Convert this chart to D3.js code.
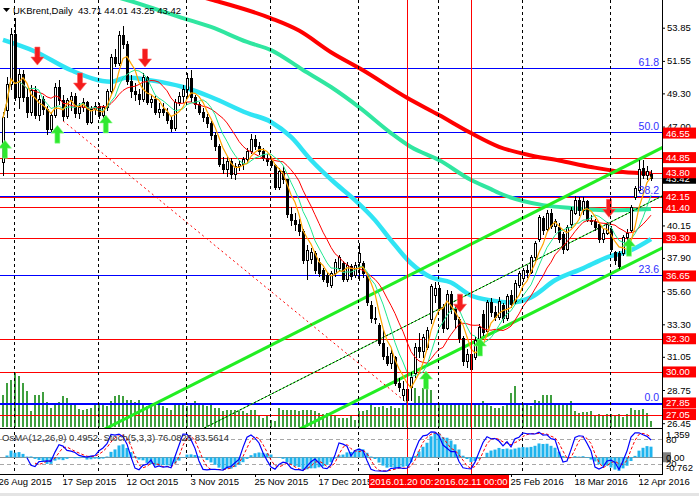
<!DOCTYPE html>
<html>
<head>
<meta charset="utf-8">
<script src="https://cdn.jsdelivr.net/npm/d3@7"></script>
<style>
body { margin: 0; background: #fff; }
svg { display: block; font-family: "Liberation Sans", Arial, sans-serif; font-size: 9.5px; }
text { white-space: pre; }
</style>
</head>
<body>
<svg id="chart" width="699" height="496"></svg>
<script>
var chartWidth = 699;
var chartHeight = 496;
var plotRight = 662, mainBottom = 428, subTop = 430, subBottom = 474;

/********
 * Data *
 ********/

// daily candles [open, high, low, close], bar 0 = 27 Aug 2015, last = 15 Apr 2016
var candles = [
  [44.5,48.0,43.6,47.6],[48.1,50.4,47.6,49.9],[49.9,53.8,49.5,53.4],[53.4,54.5,48.8,49.0],[49.0,51.0,48.2,50.6],
  [50.6,50.9,48.7,49.0],[49.0,49.6,47.6,48.0],[48.0,49.9,47.7,49.5],[49.5,49.8,47.5,47.8],[47.8,49.2,47.4,48.9],
  [48.9,49.1,47.8,48.2],[48.2,48.4,46.4,46.8],[46.8,48.0,46.6,47.8],[47.8,50.0,47.6,49.7],[49.7,50.2,48.5,48.8],
  [48.8,49.2,47.4,47.7],[47.7,49.0,47.5,48.8],[48.8,49.4,48.1,49.1],[49.1,49.3,47.6,47.9],[47.9,48.6,47.5,48.3],
  [48.3,49.0,48.0,48.7],[48.7,48.8,47.1,47.3],[47.3,48.4,47.2,48.2],[48.2,48.7,47.8,48.4],[48.4,48.6,47.5,47.8],
  [47.8,48.5,47.6,48.3],[48.3,49.6,48.1,49.4],[49.4,52.0,49.2,51.8],[51.8,52.4,51.1,51.4],[51.4,53.6,51.2,53.3],
  [53.3,54.0,52.4,52.7],[52.7,52.9,49.9,50.1],[50.1,50.6,49.0,49.4],[49.4,50.0,48.8,49.2],[49.2,49.6,48.5,48.9],
  [48.9,50.7,48.7,50.4],[50.4,50.5,48.5,48.7],[48.7,49.2,48.3,48.9],[48.9,49.1,47.8,48.0],[48.0,48.6,47.6,48.2],
  [48.2,48.6,47.7,48.0],[48.0,48.3,47.2,47.4],[47.4,47.7,46.6,46.9],[46.9,48.9,46.7,48.7],[48.7,49.4,48.4,49.1],
  [49.1,49.9,48.6,49.6],[49.6,50.7,49.0,50.3],[50.3,50.9,48.7,49.0],[49.0,49.2,48.2,48.5],[48.5,48.7,47.8,48.0],
  [48.0,48.3,47.3,47.6],[47.6,47.9,46.9,47.2],[47.2,47.4,46.1,46.4],[46.4,46.6,45.3,45.6],[45.6,45.8,44.2,44.4],
  [44.4,44.9,43.7,44.0],[44.0,44.9,43.5,44.6],[44.6,44.8,43.4,43.7],[43.7,44.5,43.3,44.2],[44.2,44.6,43.9,44.4],
  [44.4,44.9,44.0,44.7],[44.7,45.5,44.4,45.3],[45.3,46.5,45.1,46.1],[46.1,46.4,45.4,45.6],[45.6,45.9,45.0,45.3],
  [45.3,45.5,44.6,44.8],[44.8,45.1,44.3,44.6],[44.6,44.9,44.1,44.3],[44.3,44.4,42.6,42.8],[42.8,44.1,42.6,43.9],
  [43.9,44.3,43.0,43.3],[43.3,43.4,40.7,40.9],[40.9,41.4,40.1,40.5],[40.5,41.0,39.8,40.2],[40.2,40.6,39.4,39.7],
  [39.7,39.9,37.5,37.7],[37.7,38.8,36.4,38.4],[37.8,38.6,37.5,38.3],[38.2,38.4,36.8,37.0],[37.6,37.9,36.6,36.8],
  [37.0,37.2,36.2,36.4],[36.7,36.9,35.9,36.2],[36.0,37.0,35.8,36.8],[36.8,37.8,36.6,37.6],[37.2,38.1,37.0,37.9],
  [37.5,37.7,36.2,36.4],[36.4,37.6,36.2,37.4],[37.3,37.5,36.4,36.6],[36.7,37.6,36.5,37.4],[37.6,38.9,36.3,38.2],
  [37.5,37.7,36.5,36.8],[36.6,36.8,34.6,34.8],[34.6,34.9,33.4,33.7],[33.7,34.5,33.3,33.6],[33.2,33.4,31.8,32.0],
  [32.0,32.9,30.8,31.1],[31.1,31.7,30.4,30.6],[30.6,31.6,30.2,31.3],[31.0,31.1,29.0,29.2],[29.2,29.6,28.6,28.9],
  [28.4,29.4,28.0,28.8],[28.8,29.0,27.8,28.0],[28.9,30.0,28.0,29.6],[29.9,32.0,29.6,31.7],[31.7,32.7,31.0,31.4],
  [31.4,32.6,31.0,32.4],[31.7,33.1,31.5,32.9],[33.6,36.1,33.3,35.9],[35.3,36.2,34.8,35.8],[35.8,36.0,34.2,34.5],
  [34.5,34.7,32.7,33.0],[33.0,35.7,32.9,35.4],[35.4,35.6,34.0,34.3],[34.3,34.6,33.0,33.6],[33.6,33.8,32.0,32.3],
  [32.3,32.5,30.4,30.7],[30.7,31.6,30.3,31.2],[31.2,31.4,29.9,30.2],[31.0,32.4,30.8,32.2],[32.2,33.3,32.0,33.1],
  [34.0,34.3,32.5,32.7],[32.8,35.0,32.6,34.8],[34.8,35.1,33.8,34.1],[34.1,34.6,33.5,33.8],[33.8,35.2,33.6,34.9],
  [34.6,34.8,33.4,33.7],[33.7,35.4,33.5,35.2],[35.3,35.7,34.4,34.7],[34.9,36.4,34.7,36.1],[36.0,37.0,35.8,36.8],
  [36.5,37.2,36.2,37.0],[37.0,37.4,36.5,36.9],[36.9,38.1,36.8,37.9],[37.9,39.1,37.7,38.9],[39.2,40.9,39.0,40.7],
  [40.6,40.8,39.5,39.8],[39.9,41.2,39.7,41.0],[41.0,41.3,39.9,40.1],[40.1,40.6,39.6,40.4],[40.0,40.3,38.9,39.2],
  [39.5,39.7,38.2,38.5],[38.5,40.2,38.4,40.0],[40.2,41.4,40.0,41.2],[41.0,42.2,40.9,41.9],[41.9,42.1,40.8,41.2],
  [41.2,42.1,40.9,41.8],[41.8,41.9,40.4,40.5],[40.5,40.9,40.2,40.4],[40.4,40.6,39.8,40.0],[40.2,40.4,38.9,39.2],
  [39.2,39.9,38.9,39.6],[39.6,40.4,39.5,40.2],[39.9,40.1,38.3,38.5],[38.3,38.4,37.4,37.7],[38.2,38.4,37.1,37.3],
  [38.2,39.5,38.0,39.3],[39.3,39.9,38.9,39.6],[39.8,41.6,39.6,41.4],[42.1,42.9,41.9,42.7],[42.6,44.7,42.4,44.0],
  [44.1,44.7,43.4,43.6],[43.6,44.3,43.3,43.9],[43.71,44.01,43.25,43.42]
];

// tick volume (relative)
var volumes = [
  32,44,47,54,51,44,36,16,32,32, 35,25,19,23,25,31,29,23,23,18, 17,18,19,22,22,23,21,26,31,32,
  31,27,27,25,27,22,21,21,23,23, 21,19,17,23,23,22,21,23,26,23, 23,21,22,19,19,16,17,17,17,16,
  16,14,17,17,12,9,12,7,6,19, 17,17,17,17,16,17,17,17,16,14, 13,14,12,11,
  9,9,9,11,7, 16,16,17,22,20,20,21,19,21,19,19,22, 34,24,39,31,39,42,37,22,
  22,22,22,22,22,22,22,22,22,22,22, 26,22,21,19,19,21,22,34,41,
  22,22,22,21,27,26,32,32,32,24,24,22,22,26,
  16,14,15,15,16,11,13,12,13,13,12,13,10,13,19,17,17,18,14,6
];

// long moving averages [bar, price]
var ma200 = [[44,56.4],[52,55.8],[67,54.5],[74,53.65],[82,52.15],[90,50.9],[101,49.0],[109,47.8],
  [117,46.55],[124,45.6],[132,45.0],[139,44.65],[147,44.2],[155,43.85],[162,43.75]];
var ma100 = [[28,56.0],[31,55.77],[44,54.6],[52,53.9],[61,52.86],[67,52.3],[75,50.92],[82,49.74],
  [89,48.35],[97,46.55],[102,45.58],[109,44.68],[117,43.3],[122,42.67],[124,42.4],[135,41.56],
  [142,41.36],[152,41.2],[162,41.29]];
var ma50 = [[0,53.0],[8,52.2],[17,50.9],[27,50.1],[31,50.4],[37,50.2],[45,49.74],[52,49.05],
  [61,47.94],[67,47.32],[72,46.28],[77,44.69],[83,43.09],[88,41.91],[93,40.52],[97,39.12],
  [102,37.53],[107,36.56],[112,36.2],[117,35.3],[122,34.96],[127,34.82],[132,35.17],[138,36.35],
  [145,37.18],[151,37.94],[157,38.43],[162,39.2]];

// support / resistance
var levelPrices = [44.85, 43.80, 42.15, 41.40, 39.30, 32.30, 30.00, 27.85, 27.05];
var labelPrices = [46.55, 44.85, 43.80, 42.15, 41.40, 39.30, 36.65, 32.30, 30.00, 27.85, 27.05];
var bidPrice = 43.42;

// fibonacci retracement
var fibLow = 27.8, fibHigh = 65.3;
var fibLevels = [0.0, 23.6, 38.2, 50.0, 61.8];

// trend lines [bar, price]
var channelUpper = [[28, 26.4], [162, 45.15]];
var channelMid = [[52, 26.35], [162, 41.8]];
var channelLower = [[76, 26.3], [162, 38.2]];
var redDiag = [[15, 47.4], [101, 27.85]];

// signal arrows [bar, tip price]
var downArrows = [[8.6, 51.26], [19.25, 49.46], [35.5, 51.13], [114.25, 34.14], [151.5, 40.71]];
var upArrows = [[0.5, 46.06], [13.6, 47.1], [25.7, 47.8], [105.75, 30.06], [119.25, 32.35], [156.5, 39.27]];

// axes
var priceTicks = [53.85, 51.55, 49.30, 47.00, 44.70, 42.40, 40.15, 37.90, 35.60, 33.30, 31.05, 28.75, 26.45];
var dateLabels = [[-1,"26 Aug 2015"],[15,"17 Sep 2015"],[31,"12 Oct 2015"],[47,"3 Nov 2015"],
  [63,"25 Nov 2015"],[79,"17 Dec 2015"],[127,"25 Feb 2016"],[143,"18 Mar 2016"],[159,"12 Apr 2016"]];
var markedDays = [[101,"2016.01.20 00:00"],[117,"2016.02.11 00:00"]];
var gridBars = [2.75, 23.75, 45.75, 66.75, 88.75, 108.75, 129.75, 151.75];
var osmaRange = [-0.762, 1.359];

/**************
 * Indicators *
 **************/

var closes = candles.map(function(d){ return d[3]; });

function sma(arr, n) {
  return arr.map(function(v, i) {
    var s = 0, k = 0;
    for (var j = Math.max(0, i - n + 1); j <= i; j++) { s += arr[j]; k++; }
    return s / k;
  });
}
function ema(arr, n) {
  var a = 2 / (n + 1), out = [];
  arr.forEach(function(v, i){ out.push(i === 0 ? v : out[i-1] + a * (v - out[i-1])); });
  return out;
}

var maFast = sma(closes, 5), maMid = sma(closes, 8), maSlow = sma(closes, 13);

var e12 = ema(closes, 12), e26 = ema(closes, 26);
var macd = e12.map(function(v, i){ return v - e26[i]; });
var macdSig = sma(macd, 9);
var osma = macd.map(function(v, i){ return v - macdSig[i]; });

var stochK = [], stochD = [];
candles.forEach(function(d, i) {
  if (i < 6) { stochK.push(null); return; }
  var num = 0, den = 0;
  for (var j = i - 2; j <= i; j++) {
    var hh = d3.max(candles.slice(j - 4, j + 1), function(c){ return c[1]; });
    var ll = d3.min(candles.slice(j - 4, j + 1), function(c){ return c[2]; });
    num += candles[j][3] - ll; den += hh - ll;
  }
  stochK.push(den ? 100 * num / den : 50);
});
stochK.forEach(function(v, i) {
  stochD.push(i < 8 ? null : (stochK[i] + stochK[i-1] + stochK[i-2]) / 3);
});

/**********
 * Scales *
 **********/

var x = d3.scaleLinear().domain([0, 162]).range([3, 651]);
var y = d3.scaleLinear().domain([26.45, 53.85]).range([423.2, 27.7]);
var vy = d3.scaleLinear().domain([0, 54]).range([427, 373]);
var oy = d3.scaleLinear().domain(osmaRange).range([472, 431]);
var sy = d3.scaleLinear().domain([0, 100]).range([473, 430]);

function extendLine(pts) {
  var a = pts[0], b = pts[1], k = (b[1] - a[1]) / (b[0] - a[0]);
  return [[-5, a[1] + k * (-5 - a[0])], [170, a[1] + k * (170 - a[0])]];
}
function fibPrice(l) { return fibLow + (fibHigh - fibLow) * l / 100; }

/**************
 * Make Chart *
 **************/

var svg = d3.select("#chart");
var defs = svg.append("defs");
defs.append("clipPath").attr("id", "clipMain").append("rect")
  .attr("x", 0).attr("y", 0).attr("width", plotRight).attr("height", mainBottom);
defs.append("clipPath").attr("id", "clipSub").append("rect")
  .attr("x", 0).attr("y", subTop).attr("width", plotRight).attr("height", subBottom - subTop);
defs.append("clipPath").attr("id", "clipAll").append("rect")
  .attr("x", 0).attr("y", 0).attr("width", plotRight).attr("height", subBottom);

svg.append("rect").attr("width", chartWidth).attr("height", chartHeight).attr("fill", "#fff");

var main = svg.append("g").attr("clip-path", "url(#clipMain)");

// volumes
main.append("g").selectAll("rect").data(volumes).enter().append("rect")
  .attr("x", function(d, i){ return x(i) - 0.75; })
  .attr("width", 1.5)
  .attr("y", function(d){ return vy(d); })
  .attr("height", function(d){ return vy(0) - vy(d); })
  .attr("fill", "#008000");

// grid + marked days (through both panes)
var full = svg.append("g").attr("clip-path", "url(#clipAll)").attr("shape-rendering", "crispEdges");
full.selectAll("line.grid").data(gridBars).enter().append("line")
  .attr("x1", function(d){ return Math.round(x(d)) + 0.5; })
  .attr("x2", function(d){ return Math.round(x(d)) + 0.5; })
  .attr("y1", 0).attr("y2", subBottom)
  .attr("stroke", "#000").attr("stroke-dasharray", "3,3");
full.selectAll("line.mark").data(markedDays).enter().append("line")
  .attr("x1", function(d){ return Math.round(x(d[0])) + 0.5; })
  .attr("x2", function(d){ return Math.round(x(d[0])) + 0.5; })
  .attr("y1", 0).attr("y2", subBottom)
  .attr("stroke", "#ff0000");

// horizontal levels
var hl = main.append("g").attr("shape-rendering", "crispEdges");
hl.append("line").attr("x1", 0).attr("x2", plotRight)
  .attr("y1", Math.round(y(bidPrice)) + 0.5).attr("y2", Math.round(y(bidPrice)) + 0.5)
  .attr("stroke", "#c0c0c0");
hl.selectAll("line.lvl").data(levelPrices).enter().append("line")
  .attr("x1", 0).attr("x2", plotRight)
  .attr("y1", function(d){ return Math.round(y(d)) + 0.5; })
  .attr("y2", function(d){ return Math.round(y(d)) + 0.5; })
  .attr("stroke", "#ff0000");
hl.selectAll("line.fib").data(fibLevels).enter().append("line")
  .attr("x1", 0).attr("x2", plotRight)
  .attr("y1", function(d){ return Math.round(y(fibPrice(d))) - 0.5; })
  .attr("y2", function(d){ return Math.round(y(fibPrice(d))) - 0.5; })
  .attr("stroke", "#0000ff").attr("stroke-width", function(d){ return d === 0 ? 2 : 1; });

// long moving averages
var curve = d3.line().x(function(d){ return x(d[0]); }).y(function(d){ return y(d[1]); }).curve(d3.curveMonotoneX);
main.append("path").attr("d", curve(ma200)).attr("fill", "none").attr("stroke", "#ff0000").attr("stroke-width", 4);
main.append("path").attr("d", curve(ma100)).attr("fill", "none").attr("stroke", "#30e6a0").attr("stroke-width", 4);
main.append("path").attr("d", curve(ma50)).attr("fill", "none").attr("stroke", "#30e4f4").attr("stroke-width", 4.5);

// trend lines
var straight = d3.line().x(function(d){ return x(d[0]); }).y(function(d){ return y(d[1]); });
[channelUpper, channelLower].forEach(function(t) {
  main.append("path").attr("d", straight(extendLine(t))).attr("stroke", "#22ee22").attr("stroke-width", 3);
});
main.append("path").attr("d", straight(extendLine(channelMid))).attr("stroke", "#22ee22").attr("stroke-width", 1);
main.append("path").attr("d", straight(extendLine(channelMid))).attr("stroke", "#000").attr("stroke-width", 1)
  .attr("stroke-dasharray", "2,2");
main.append("path").attr("d", straight(redDiag)).attr("stroke", "#ff0000").attr("stroke-width", 1)
  .attr("stroke-dasharray", "2,3");

// candles
var cg = main.append("g").attr("shape-rendering", "crispEdges");
cg.selectAll("line").data(candles).enter().append("line")
  .attr("x1", function(d, i){ return Math.round(x(i)) + 0.5; })
  .attr("x2", function(d, i){ return Math.round(x(i)) + 0.5; })
  .attr("y1", function(d){ return y(d[1]); })
  .attr("y2", function(d){ return y(d[2]); })
  .attr("stroke", "#000");
cg.selectAll("rect").data(candles).enter().append("rect")
  .attr("x", function(d, i){ return Math.round(x(i)) - 0.5; })
  .attr("width", 2)
  .attr("y", function(d){ return y(Math.max(d[0], d[3])); })
  .attr("height", function(d){ return Math.max(1, Math.abs(y(d[0]) - y(d[3]))); })
  .attr("fill", function(d){ return d[3] >= d[0] ? "#fff" : "#000"; })
  .attr("stroke", "#000");

// short moving averages
var idxLine = d3.line().x(function(d, i){ return x(i); }).y(function(d){ return y(d); });
main.append("path").attr("d", idxLine(maSlow)).attr("fill", "none").attr("stroke", "#ff0000").attr("stroke-width", 1);
main.append("path").attr("d", idxLine(maMid)).attr("fill", "none").attr("stroke", "#1ee890").attr("stroke-width", 1);
main.append("path").attr("d", idxLine(maFast)).attr("fill", "none").attr("stroke", "#ffa500").attr("stroke-width", 1.2);

// arrows
function arrowPath(cx, tip, dir) {
  var hw = 6.5, sw = 2.5, hh = 8, len = 18;
  var b = tip - dir * hh, t = tip - dir * len;
  return "M" + cx + "," + tip + "L" + (cx - hw) + "," + b + "L" + (cx - sw) + "," + b +
    "L" + (cx - sw) + "," + t + "L" + (cx + sw) + "," + t + "L" + (cx + sw) + "," + b +
    "L" + (cx + hw) + "," + b + "Z";
}
main.selectAll("path.dn").data(downArrows).enter().append("path")
  .attr("d", function(d){ return arrowPath(x(d[0]), y(d[1]), 1); })
  .attr("fill", "#f41c1c").attr("stroke", "#ff6060").attr("stroke-width", 0.6);
main.selectAll("path.up").data(upArrows).enter().append("path")
  .attr("d", function(d){ return arrowPath(x(d[0]), y(d[1]), -1); })
  .attr("fill", "#2ee82e").attr("stroke", "#90ff90").attr("stroke-width", 0.6);

// fib labels
main.selectAll("text.fib").data(fibLevels).enter().append("text")
  .attr("x", plotRight - 3).attr("y", function(d){ return y(fibPrice(d)) - 3; })
  .attr("text-anchor", "end").attr("fill", "#3030ff").attr("font-size", "10.5px")
  .text(function(d){ return d.toFixed(1); });

/*************
 * Sub window *
 *************/

var sub = svg.append("g").attr("clip-path", "url(#clipSub)");
sub.append("g").attr("shape-rendering", "crispEdges").selectAll("line").data([80, 20]).enter().append("line")
  .attr("x1", 0).attr("x2", plotRight)
  .attr("y1", function(d){ return Math.round(sy(d)) + 0.5; })
  .attr("y2", function(d){ return Math.round(sy(d)) + 0.5; })
  .attr("stroke", "#a8a8a8").attr("stroke-dasharray", "4,3");
sub.append("line").attr("x1", 0).attr("x2", plotRight)
  .attr("y1", Math.round(oy(0)) + 0.5).attr("y2", Math.round(oy(0)) + 0.5)
  .attr("stroke", "#909090").attr("shape-rendering", "crispEdges");
sub.append("g").selectAll("rect").data(osma).enter().append("rect")
  .attr("x", function(d, i){ return x(i) - 1.5; })
  .attr("width", 3)
  .attr("y", function(d){ return Math.min(oy(d), oy(0)); })
  .attr("height", function(d){ return Math.abs(oy(d) - oy(0)); })
  .attr("fill", "#1fb4ee");
var stLine = d3.line().defined(function(d){ return d !== null; })
  .x(function(d, i){ return x(i); }).y(function(d){ return sy(d); });
sub.append("path").attr("d", stLine(stochD)).attr("fill", "none").attr("stroke", "#ff0000")
  .attr("stroke-width", 1).attr("stroke-dasharray", "3,2");
sub.append("path").attr("d", stLine(stochK)).attr("fill", "none").attr("stroke", "#0000ff").attr("stroke-width", 1.2);
svg.append("text").attr("x", 2).attr("y", 441).attr("fill", "#333")
  .text("OsMA(12,26,9) 0.4952  Stoch(5,3,3) 76.0826 83.5614");

/********
 * Axes *
 ********/

var frame = svg.append("g").attr("shape-rendering", "crispEdges").attr("stroke", "#000");
frame.append("line").attr("x1", plotRight + 0.5).attr("x2", plotRight + 0.5).attr("y1", 0).attr("y2", subBottom + 1);
frame.append("line").attr("x1", 0).attr("x2", plotRight).attr("y1", mainBottom + 0.5).attr("y2", mainBottom + 0.5);
frame.append("line").attr("x1", 0).attr("x2", plotRight).attr("y1", subBottom + 0.5).attr("y2", subBottom + 0.5);

var yAxis = d3.axisRight(y).tickValues(priceTicks).tickFormat(d3.format(".2f")).tickSize(3).tickPadding(2);
var yAxisGroup = svg.append("g").attr("transform", "translate(" + plotRight + ",0)").call(yAxis);
yAxisGroup.select(".domain").remove();
yAxisGroup.selectAll("text").attr("font-size", "9.5px").attr("font-family", "Liberation Sans, Arial, sans-serif").attr("fill", "#000");

// price tags (bid first, the level tags sit on top of it)
function tag(price, bg, label) {
  var yc = y(price);
  svg.append("rect").attr("x", plotRight + 1).attr("y", yc - 5.5).attr("width", 33).attr("height", 11).attr("fill", bg);
  svg.append("text").attr("x", plotRight + 4).attr("y", yc + 3.5).attr("fill", "#fff").text(label);
}
tag(bidPrice, "#000", bidPrice.toFixed(2));
labelPrices.forEach(function(p){ tag(p, "#ff0000", p.toFixed(2)); });

// sub window scale labels
svg.append("text").attr("x", plotRight + 4).attr("y", oy(osmaRange[1]) + 7).text(osmaRange[1].toFixed(3));
svg.append("text").attr("x", plotRight + 4).attr("y", sy(80) + 4).text("80");
svg.append("rect").attr("x", plotRight + 1).attr("y", oy(0) - 5).attr("width", 8).attr("height", 10).attr("fill", "#808080");
svg.append("text").attr("x", plotRight + 4).attr("y", oy(0) + 3.5).text("0.00");
svg.append("text").attr("x", plotRight + 4).attr("y", sy(20) + 3).text("20");
svg.append("text").attr("x", plotRight + 4).attr("y", oy(osmaRange[0]) - 1).text(osmaRange[0].toFixed(3));

var labelMap = new Map(dateLabels);
var xAxis = d3.axisBottom(x).tickValues(dateLabels.map(function(d){ return d[0]; }))
  .tickFormat(function(d){ return labelMap.get(d); }).tickSize(3).tickPadding(1);
var xAxisGroup = svg.append("g").attr("transform", "translate(0," + subBottom + ")").call(xAxis);
xAxisGroup.select(".domain").remove();
xAxisGroup.selectAll("text").attr("text-anchor", "start").attr("dx", "-1")
  .attr("font-size", "9.5px").attr("font-family", "Liberation Sans, Arial, sans-serif").attr("fill", "#000");

// marked day tags
markedDays.forEach(function(d) {
  var cx = x(d[0]);
  svg.append("rect").attr("x", cx - 38).attr("y", 475).attr("width", 76).attr("height", 13).attr("fill", "#ff0000");
  svg.append("text").attr("x", cx).attr("y", 485).attr("text-anchor", "middle").attr("fill", "#fff").text(d[1]);
});

svg.append("rect").attr("x", 0).attr("y", 493).attr("width", chartWidth).attr("height", 3).attr("fill", "#e4e4e4");

// header
svg.append("path").attr("d", "M3,8L10,8L6.5,12Z").attr("fill", "#000");
svg.append("text").attr("x", 13).attr("y", 14).attr("fill", "#000").text("UKBrent,Daily  43.71 44.01 43.25 43.42");
</script>
</body>
</html>
